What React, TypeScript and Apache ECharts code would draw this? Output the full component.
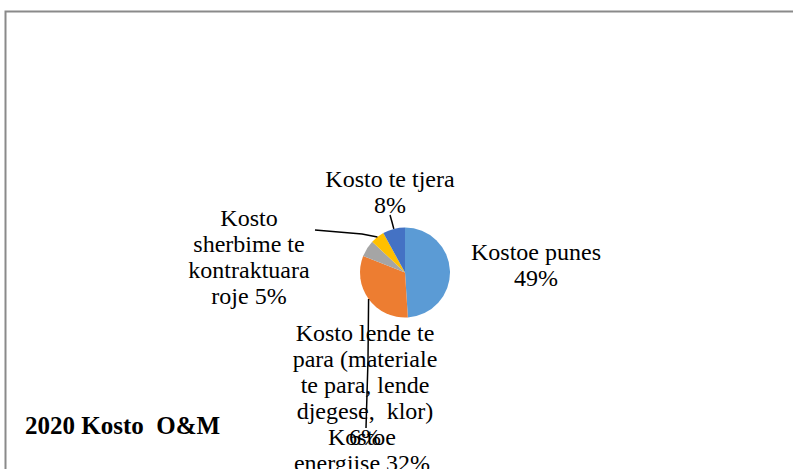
import React, { useEffect, useRef } from "react";
import * as echarts from "echarts";

const categories = [
  "Kostoe punes",
  "Kostoe\nenergjise",
  "Kosto lende te\npara (materiale\nte para, lende\ndjegese,  klor)",
  "Kosto\nsherbime te\nkontraktuara\nroje",
  "Kosto te tjera",
];
const values = [49, 32, 6, 5, 8];
const percentLabels = ["49%", "32%", "6%", "5%", "8%"];
const percentOnNewLine = [true, false, true, false, true];
const colors = ["#5B9BD5", "#ED7D31", "#A5A5A5", "#FFC000", "#4472C4"];
const title = "2020 Kosto  O&M";

const CX = 405;
const CY = 272.5;
const R = 45;
const LINE_H = 26;
const FONT_SIZE = 24;

const labelPos: number[][] = [
  [536, 265],
  [362, 450],
  [365, 385],
  [249, 257],
  [390, 192],
];
// leader line bend/end points (start point comes from the slice itself)
const lineRest: (number[][] | null)[] = [
  null,
  [[368, 360], [366, 428]],
  null,
  [[362, 234], [315, 230]],
  [[392, 222], [390, 215]],
];

const FONT = "Liberation Serif";

export default function App() {
  const ref = useRef<HTMLDivElement>(null);
  useEffect(() => {
    if (!ref.current) return;
    const chart = echarts.init(ref.current, undefined, { renderer: "svg" });
    const total = values.reduce((a, b) => a + b, 0);
    const data = categories.map((name, i) => ({
      name,
      value: values[i],
      itemStyle: { color: colors[i] },
    }));

    const fontStr = FONT_SIZE + "px " + FONT;
    const canvas = document.createElement("canvas");
    const ctx = canvas.getContext("2d");
    if (ctx) ctx.font = fontStr;
    const measure = (s: string) =>
      ctx ? ctx.measureText(s).width : s.length * FONT_SIZE * 0.45;

    const graphics: any[] = [
      {
        type: "rect",
        shape: { x: 5.5, y: 11.5, width: 900, height: 600 },
        style: { fill: "none", stroke: "#8a8a8a", lineWidth: 2 },
        silent: true,
      },
    ];
    let cum = 0;
    categories.forEach((name, i) => {
      const mid = (cum + values[i] / 2) / total;
      cum += values[i];
      const th = mid * Math.PI * 2;
      const sx = CX + R * Math.sin(th);
      const sy = CY - R * Math.cos(th);
      const rest = lineRest[i];
      if (rest) {
        graphics.push({
          type: "polyline",
          shape: { points: [[sx, sy], ...rest] },
          style: { stroke: "#000", lineWidth: 1.5, fill: "none" },
          silent: true,
          z: 10,
        });
      }
      const full =
        name + (percentOnNewLine[i] ? "\n" : " ") + percentLabels[i];
      const lines = full.split("\n");
      const n = lines.length;
      lines.forEach((ln, k) => {
        const cy = labelPos[i][1] + (k - (n - 1) / 2) * LINE_H;
        graphics.push({
          type: "text",
          x: labelPos[i][0] - measure(ln) / 2,
          y: cy - FONT_SIZE / 2,
          z: 11,
          style: {
            text: ln,
            font: fontStr,
            fill: "#000",
          },
          silent: true,
        });
      });
    });

    chart.setOption({
      animation: false,
      backgroundColor: "#ffffff",
      title: {
        text: title,
        left: 25,
        top: 413,
        padding: 0,
        textStyle: {
          fontFamily: FONT,
          fontSize: 25,
          fontWeight: "bold",
          color: "#000",
        },
      },
      graphic: graphics,
      series: [
        {
          type: "pie",
          center: [CX, CY],
          radius: R,
          startAngle: 90,
          clockwise: true,
          data,
          itemStyle: { borderWidth: 0 },
          label: { show: false },
          labelLine: { show: false },
        },
      ],
    });
    return () => chart.dispose();
  }, []);
  return (
    <div
      ref={ref}
      style={{ position: "absolute", left: 0, top: 0, width: 793, height: 469 }}
    />
  );
}
